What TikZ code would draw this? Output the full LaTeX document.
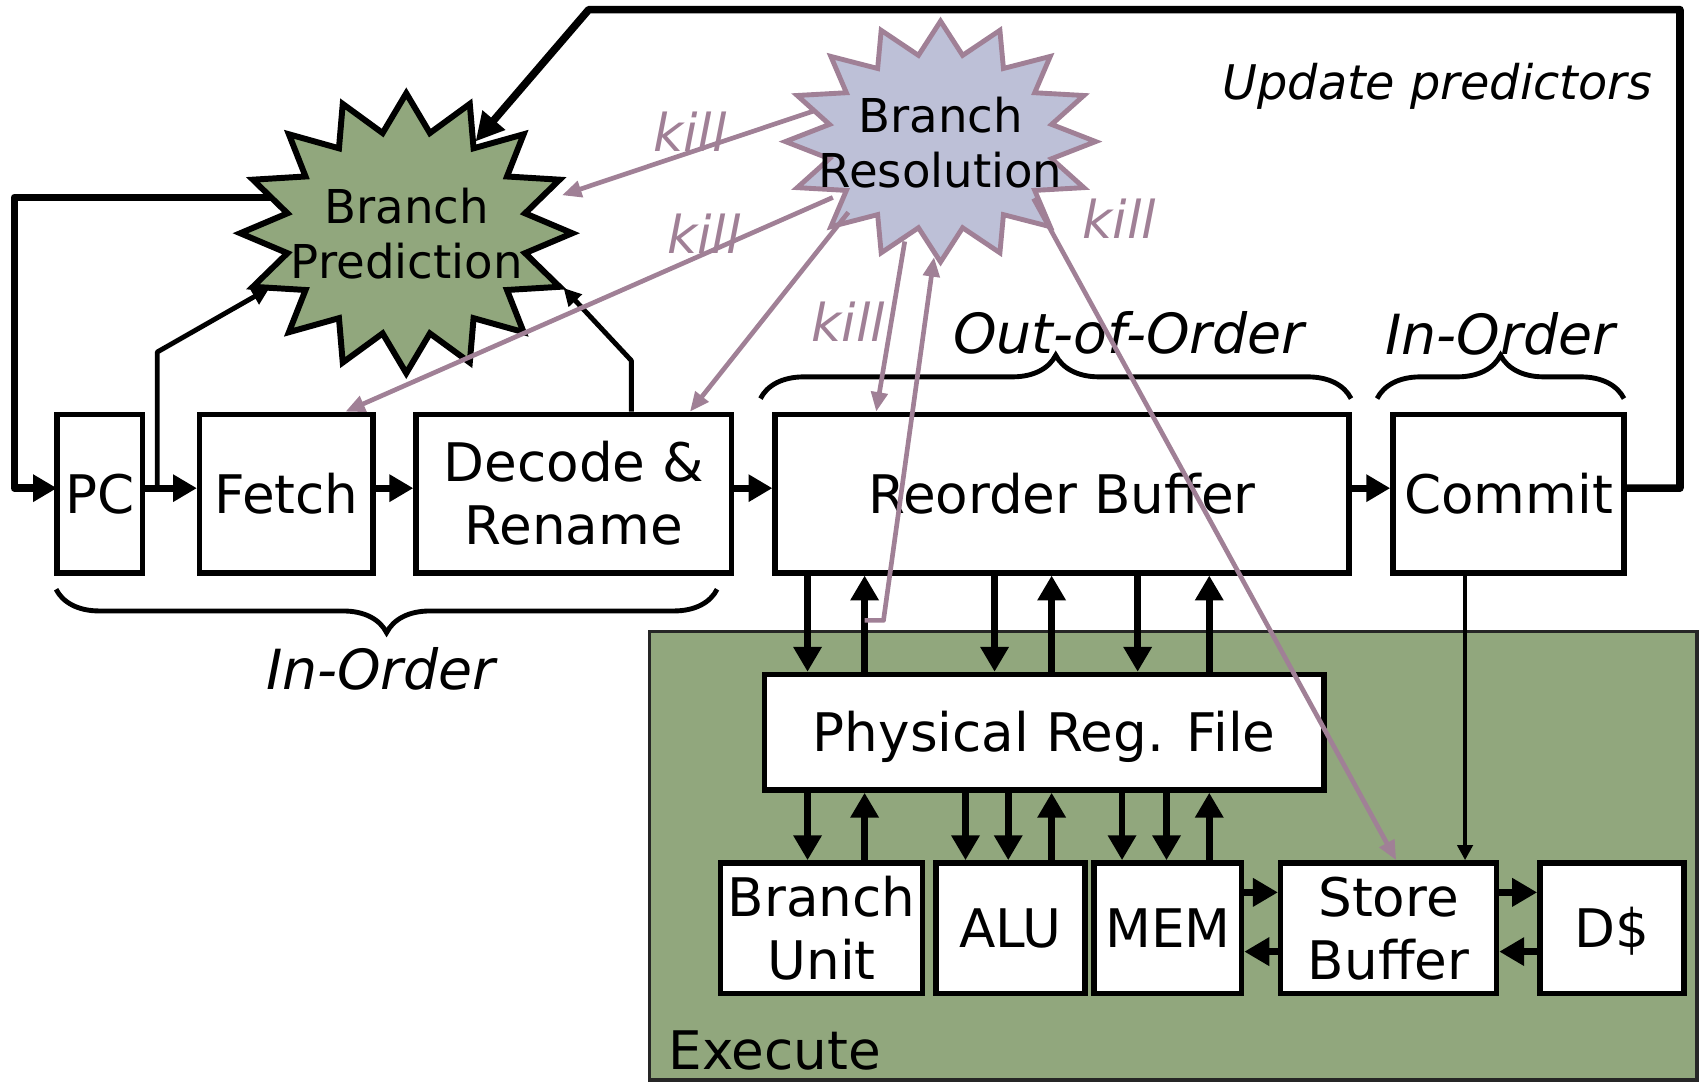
\documentclass[tikz,border=0pt]{standalone}
\usepackage{fontspec}
\setmainfont{DejaVu Sans}
\usetikzlibrary{arrows.meta,decorations.pathreplacing,calc}
\definecolor{exgreen}{RGB}{145,167,125}
\definecolor{resblue}{RGB}{189,192,215}
\definecolor{killc}{RGB}{160,128,150}
\newcommand\boxfont{\fontsize{49}{58}\selectfont}
\newcommand\labfont{\fontsize{51}{58}\selectfont\itshape}
\newcommand\killfont{\fontsize{48}{58}\selectfont\itshape}
\newcommand\updfont{\fontsize{44}{52}\selectfont\itshape}
\newcommand\starfont{\fontsize{43}{51}\selectfont}
\newcommand\mystarburst[5]{\draw[#1] plot[samples at={0,1,...,31}, variable=\k] ({#2+#4*(1-0.27*mod(\k,2))*cos(90+11.25*\k)}, {#3-#5*(1-0.27*mod(\k,2))*sin(90+11.25*\k)}) -- cycle;}
\begin{document}
\begin{tikzpicture}[x=1pt,y=-1pt,
  box/.style={draw=black,line width=5pt,fill=white,inner sep=0pt,align=center,font=\boxfont},
  onel/.style={text height=36pt,text depth=0pt},
  pipe/.style={line width=6.5pt,-{Triangle[length=22pt,width=24pt]}},
  vbus/.style={line width=6pt,-{Triangle[length=23pt,width=25pt]}},
  loopline/.style={line width=7pt,line join=round},
  thinarr/.style={line width=4.5pt,line join=round,-{Triangle[length=16pt,width=16pt]}},
  killarr/.style={draw=killc,line width=4.3pt,line join=round,-{Triangle[length=18pt,width=15pt]}},
  killlab/.style={text=killc,font=\killfont,inner sep=0pt,anchor=base},
  lab/.style={font=\labfont,inner sep=0pt,anchor=base},
  bracetop/.style={decorate,decoration={brace,amplitude=40pt},line width=4.5pt},
  bracebot/.style={decorate,decoration={brace,mirror,amplitude=40pt},line width=4.5pt},
  startext/.style={align=center,font=\starfont,inner sep=0pt}
]
\useasboundingbox (0,0) rectangle (1568,997.4);

% Execute region
\node[draw=black!85,line width=3pt,fill=exgreen,minimum width=965.7pt,minimum height=413.6pt,inner sep=0pt] (exe) at (1081.5,788.8) {};
\node[font=\boxfont,inner sep=0pt,anchor=base west] (exetxt) at (616,986) {Execute};

% left feedback loop (behind the star)
\coordinate (bpw) at (250,182);
\draw[loopline,-{Triangle[length=22pt,width=24pt]}] (bpw) -- (13.3,182) -- (13.3,450) -- (52.5,450);

% starbursts
\mystarburst{draw=black,line width=5.5pt,fill=exgreen,line join=miter}{374.5}{215}{153}{129}
\mystarburst{draw=killc,line width=4.5pt,fill=resblue,line join=miter}{867}{130.5}{143}{111}
\node[startext] (bp) at (375,215.5) {Branch\\Prediction};
\node[startext] (br) at (867,131.5) {Branch\\Resolution};

% front-end and back-end boxes
\node[box,onel,minimum width=79pt,minimum height=146pt] (pc) at (92,455) {PC};
\node[box,onel,minimum width=160pt,minimum height=146pt] (fetch) at (264,455) {Fetch};
\node[box,minimum width=291pt,minimum height=146pt] (dec) at (529,455) {Decode \&\\Rename};
\node[box,onel,minimum width=529pt,minimum height=146pt] (rob) at (979,455) {Reorder Buffer};
\node[box,onel,minimum width=213pt,minimum height=146pt] (commit) at (1390.5,455) {Commit};
\node[box,onel,minimum width=516pt,minimum height=106.5pt] (prf) at (962.5,675) {Physical Reg. File};
\node[box,minimum width=186pt,minimum height=120.5pt] (bu) at (757.4,855.7) {Branch\\Unit};
\node[box,onel,minimum width=137.4pt,minimum height=120.5pt] (alu) at (931.4,855.7) {ALU};
\node[box,onel,minimum width=136pt,minimum height=120.5pt] (mem) at (1076.5,855.7) {MEM};
\node[box,minimum width=199pt,minimum height=120.5pt] (sb) at (1280,855.7) {Store\\Buffer};
\node[box,onel,minimum width=132.7pt,minimum height=120.5pt] (dc) at (1485.8,855.7) {D\$};

% pipeline arrows
\draw[pipe] (pc.east |- 0,450) -- (fetch.west |- 0,450);
\draw[pipe] (fetch.east |- 0,450) -- (dec.west |- 0,450);
\draw[pipe] (dec.east |- 0,450) -- (rob.west |- 0,450);
\draw[pipe] (rob.east |- 0,450) -- (commit.west |- 0,450);

% update predictors loop
\coordinate (bpnw) at (438.4,130.4);
\draw[loopline,-{Triangle[length=26pt,width=26pt]}] (commit.east |- 0,450) -- (1548.6,450) -- (1548.6,8.9) -- (542.7,8.9) -- (bpnw);

% thin feedback to branch prediction
\coordinate (pcfork) at (145,450);
\coordinate (bpsw) at (248.4,265.5);
\coordinate (bpse) at (519.5,265.5);
\draw[thinarr] (pcfork) -- (145,324.5) -- (bpsw);
\draw[thinarr] (582,0 |- dec.north) -- (582,332.4) -- (bpse);

% ROB <-> PRF
\foreach \x in {744.4,916.8,1048.7} \draw[vbus] (\x,0 |- rob.south) -- (\x,0 |- prf.north);
\foreach \x in {797,969.4,1114.7} \draw[vbus] (\x,0 |- prf.north) -- (\x,0 |- rob.south);
% PRF <-> units
\draw[vbus] (744.4,0 |- prf.south) -- (744.4,0 |- bu.north);
\draw[vbus] (797,0 |- bu.north) -- (797,0 |- prf.south);
\foreach \x in {890,929.4} \draw[vbus] (\x,0 |- prf.south) -- (\x,0 |- alu.north);
\draw[vbus] (969.4,0 |- alu.north) -- (969.4,0 |- prf.south);
\foreach \x in {1034.3,1075.3} \draw[vbus] (\x,0 |- prf.south) -- (\x,0 |- mem.north);
\draw[vbus] (1114.7,0 |- mem.north) -- (1114.7,0 |- prf.south);
% MEM <-> SB <-> D$
\draw[vbus] (mem.east |- 0,822.6) -- (sb.west |- 0,822.6);
\draw[vbus] (sb.west |- 0,877.2) -- (mem.east |- 0,877.2);
\draw[vbus] (sb.east |- 0,822.6) -- (dc.west |- 0,822.6);
\draw[vbus] (dc.west |- 0,877.2) -- (sb.east |- 0,877.2);
% Commit -> SB
\draw[line width=4pt,-{Triangle[length=14pt,width=14pt]}] (1350.5,0 |- commit.south) -- (1350.5,0 |- sb.north);

% braces
\draw[bracetop] (701,367.4) -- (1245.4,367.4);
\draw[bracetop] (1269.4,367.4) -- (1497,367.4);
\draw[bracebot] (51.7,543.2) -- (661,543.2);

% labels
\node[lab] (ooo) at (1040.5,326) {Out-of-Order};
\node[lab] (io1) at (1383,327) {In-Order};
\node[lab] (io2) at (351,635.5) {In-Order};
\node[font=\updfont,inner sep=0pt,anchor=base east] (upd) at (1523,92) {Update predictors};

% kill arrows
\coordinate (br1) at (749.5,102.5);
\coordinate (br2) at (767.7,182);
\coordinate (br3) at (782,195.7);
\coordinate (br4) at (834,222.6);
\coordinate (br5) at (952.7,183);
\coordinate (bpe) at (518,180);
\coordinate (bufork) at (797,571.9);
\coordinate (brs) at (861,237);
\draw[killarr] (br1) -- (bpe);
\draw[killarr] (br2) -- (318.4,0 |- fetch.north);
\draw[killarr] (br3) -- (636,0 |- dec.north);
\draw[killarr] (br4) -- (807.7,0 |- rob.north);
\draw[killarr] (br5) -- (1287,0 |- sb.north);
\draw[killarr] (bufork) -- (814.4,571.9) -- (brs);

\node[killlab] (k1) at (636,140) {kill};
\node[killlab] (k2) at (649,234) {kill};
\node[killlab] (k3) at (782,315) {kill};
\node[killlab] (k4) at (1032,219.5) {kill};
\end{tikzpicture}
\end{document}
